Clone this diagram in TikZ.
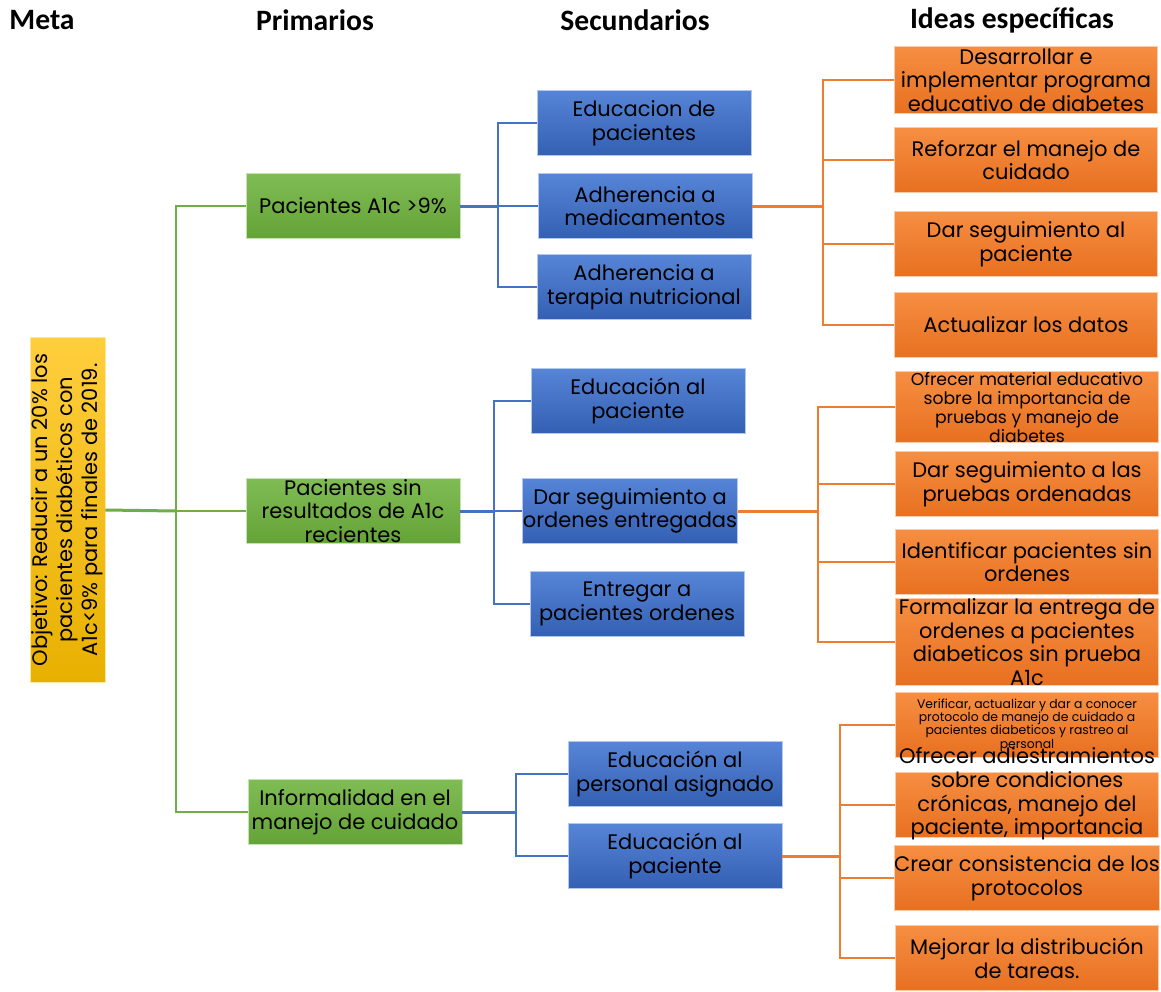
\documentclass[tikz,border=0pt]{standalone}
\usepackage{fontspec}
\setmainfont{Poppins}
\newfontfamily\headfont{Carlito}
\definecolor{grnline}{RGB}{112,173,71}
\definecolor{bluline}{RGB}{68,114,196}
\definecolor{orgline}{RGB}{237,125,49}
\definecolor{ylwtop}{RGB}{255,206,60}
\definecolor{ylwbot}{RGB}{232,176,0}
\definecolor{grntop}{RGB}{128,188,84}
\definecolor{grnbot}{RGB}{100,163,56}
\definecolor{blutop}{RGB}{86,132,214}
\definecolor{blubot}{RGB}{52,96,180}
\definecolor{orgtop}{RGB}{246,142,66}
\definecolor{orgbot}{RGB}{232,112,32}
\tikzset{
  box/.style={rectangle, inner sep=0pt, align=center, text=black,
    font=\fontsize{10.5}{11.8}\selectfont},
  goalbox/.style={box, draw=ylwtop!50, top color=ylwtop, bottom color=ylwbot,
    minimum width=37.5pt, minimum height=172.5pt},
  primbox/.style={box, draw=grntop!45, top color=grntop, bottom color=grnbot,
    minimum width=107pt, minimum height=32.5pt},
  secbox/.style={box, draw=blutop!45, top color=blutop, bottom color=blubot,
    minimum width=107pt, minimum height=32.5pt},
  ideabox/.style={box, draw=orgtop!45, top color=orgtop, bottom color=orgbot,
    minimum width=131.5pt, minimum height=32.5pt},
  head/.style={font=\headfont\bfseries\fontsize{14.8}{17}\selectfont},
  glink/.style={grnline, line width=1pt},
  blink/.style={bluline, line width=1pt},
  olink/.style={orgline, line width=1pt},
}
\begin{document}
\begin{tikzpicture}[x=0.5pt, y=-0.5pt]
  \useasboundingbox (0,0) rectangle (1161,991);
  % headers
  \node[head] (hmeta) at (42,20) {Meta};
  \node[head] (hprim) at (315,20) {Primarios};
  \node[head] (hsec) at (635,20) {Secundarios};
  \node[head] (hidea) at (1012,20) {Ideas específicas};
  % goal
  \node[goalbox] (M) at (67.5,510) {};
  \node[box, rotate=90, font=\fontsize{10.5}{12.5}\selectfont] (Mt) at (M) {Objetivo: Reducir a un 20\% los\\pacientes diabéticos con\\A1c<9\% para finales de 2019.};
  % primary causes
  \node[primbox] (G1) at (353,206) {Pacientes A1c >9\%};
  \node[primbox] (G2) at (353,511) {Pacientes sin\\resultados de A1c\\recientes};
  \node[primbox] (G3) at (355,812) {Informalidad en el\\manejo de cuidado};
  % secondary causes
  \node[secbox] (B1) at (644,123) {Educacion de\\pacientes};
  \node[secbox] (B2) at (645,206) {Adherencia a\\medicamentos};
  \node[secbox] (B3) at (644,287) {Adherencia a\\terapia nutricional};
  \node[secbox] (B4) at (638,401) {Educación al\\paciente};
  \node[secbox] (B5) at (630,511) {Dar seguimiento a\\ordenes entregadas};
  \node[secbox] (B6) at (637,604) {Entregar a\\pacientes ordenes};
  \node[secbox] (B7) at (675,774) {Educación al\\personal asignado};
  \node[secbox] (B8) at (675,856) {Educación al\\paciente};
  % specific ideas
  \node[ideabox, minimum height=33.5pt] (O1) at (1026,80) {Desarrollar e\\implementar programa\\educativo de diabetes};
  \node[ideabox] (O2) at (1026,160) {Reforzar el manejo de\\cuidado};
  \node[ideabox] (O3) at (1026,244) {Dar seguimiento al\\paciente};
  \node[ideabox] (O4) at (1026,325) {Actualizar los datos};
  \node[ideabox, font=\fontsize{8.6}{9.5}\selectfont] (O5) at (1027,407) {Ofrecer material educativo\\sobre la importancia de\\pruebas y manejo de\\diabetes};
  \node[ideabox] (O6) at (1027,484) {Dar seguimiento a las\\pruebas ordenadas};
  \node[ideabox] (O7) at (1027,562) {Identificar pacientes sin\\ordenes};
  \node[ideabox] (O8) at (1027,642) {Formalizar la entrega de\\ordenes a pacientes\\diabeticos sin prueba\\A1c};
  \node[ideabox, font=\fontsize{6.2}{6.7}\selectfont] (O9) at (1027,725) {Verificar, actualizar y dar a conocer\\protocolo de manejo de cuidado a\\pacientes diabeticos y rastreo al\\personal};
  \node[ideabox] (O10) at (1027,805) {};
  \node[box] (O10t) at (1027,794) {Ofrecer adiestramientos\\sobre condiciones\\crónicas, manejo del\\paciente, importancia};
  \node[ideabox] (O11) at (1027,878) {Crear consistencia de los\\protocolos};
  \node[ideabox] (O12) at (1027,958) {Mejorar la distribución\\de tareas.};
  % trunks
  \coordinate (tg) at (176,511);
  \coordinate (tb1) at (498,206);
  \coordinate (tb2) at (494,511);
  \coordinate (tb3) at (516,812);
  \coordinate (to1) at (823,206);
  \coordinate (to2) at (818,511);
  \coordinate (to3) at (840,856);
  % goal to primary
  \draw[glink, line width=1.5pt] (M.east) -- (tg);
  \draw[glink] (tg) |- (G1.west);
  \draw[glink] (tg) -- (G2.west);
  \draw[glink] (tg) |- (G3.west);
  % primary to secondary
  \draw[blink, line width=1.5pt] (G1.east) -- (tb1);
  \draw[blink] (tb1) |- (B1.west);
  \draw[blink] (tb1) -- (B2.west);
  \draw[blink] (tb1) |- (B3.west);
  \draw[blink, line width=1.5pt] (G2.east) -- (tb2);
  \draw[blink] (tb2) |- (B4.west);
  \draw[blink] (tb2) -- (B5.west);
  \draw[blink] (tb2) |- (B6.west);
  \draw[blink, line width=1.5pt] (G3.east) -- (tb3);
  \draw[blink] (tb3) |- (B7.west);
  \draw[blink] (tb3) |- (B8.west);
  % secondary to ideas
  \draw[olink, line width=1.5pt] (B2.east) -- (to1);
  \foreach \o in {O1,O2,O3,O4}
    \draw[olink] (to1) |- (\o.west);
  \draw[olink, line width=1.5pt] (B5.east) -- (to2);
  \foreach \o in {O5,O6,O7,O8}
    \draw[olink] (to2) |- (\o.west);
  \draw[olink, line width=1.5pt] (B8.east) -- (to3);
  \foreach \o in {O9,O10,O11,O12}
    \draw[olink] (to3) |- (\o.west);
\end{tikzpicture}
\end{document}
